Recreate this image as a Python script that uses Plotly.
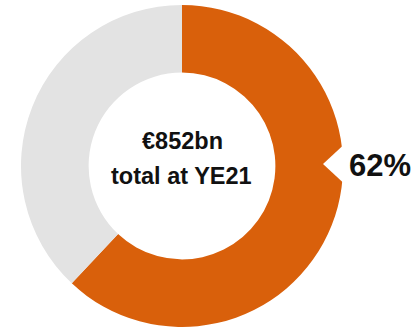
import plotly.graph_objects as go

# Share of the total held in the highlighted segment
labels = ["Share", "Remainder"]
values = [62, 38]
colors = ["#D9600B", "#E3E3E3"]
center_lines = ["€852bn", "total at YE21"]
share_label = "62%"

W, H = 414, 327


def px(x):
    return x / W


def py(y):
    return 1 - y / H


fig = go.Figure(
    go.Pie(
        labels=labels,
        values=values,
        hole=0.58,
        sort=False,
        direction="clockwise",
        rotation=0,
        marker=dict(colors=colors, line=dict(width=0)),
        textinfo="none",
        hoverinfo="label+value",
        showlegend=False,
        domain=dict(x=[px(21), px(343)], y=[py(327), py(5)]),
    )
)

font_family = "Liberation Sans, Arial, Helvetica, sans-serif"

# Notch cut into the ring pointing at the share label
fig.add_shape(
    type="path",
    xref="paper",
    yref="paper",
    path=f"M {px(323)},{py(164)} L {px(350)},{py(139)} L {px(350)},{py(189)} Z",
    fillcolor="white",
    line=dict(width=0),
    layer="above",
)

fig.add_annotation(
    x=px(182), y=py(141), xref="paper", yref="paper",
    text=f"<b>{center_lines[0]}</b>", showarrow=False,
    xanchor="center", yanchor="middle",
    font=dict(family=font_family, size=23.5, color="#111111"),
)
fig.add_annotation(
    x=px(181), y=py(176), xref="paper", yref="paper",
    text=f"<b>{center_lines[1]}</b>", showarrow=False,
    xanchor="center", yanchor="middle",
    font=dict(family=font_family, size=23.5, color="#111111"),
)
fig.add_annotation(
    x=px(347), y=py(165), xref="paper", yref="paper",
    text=f"<b>{share_label}</b>", showarrow=False,
    xanchor="left", yanchor="middle",
    font=dict(family=font_family, size=31, color="#111111"),
)

fig.update_layout(
    width=W,
    height=H,
    margin=dict(l=0, r=0, t=0, b=0),
    paper_bgcolor="white",
    plot_bgcolor="white",
)

fig.write_html("out.html")
